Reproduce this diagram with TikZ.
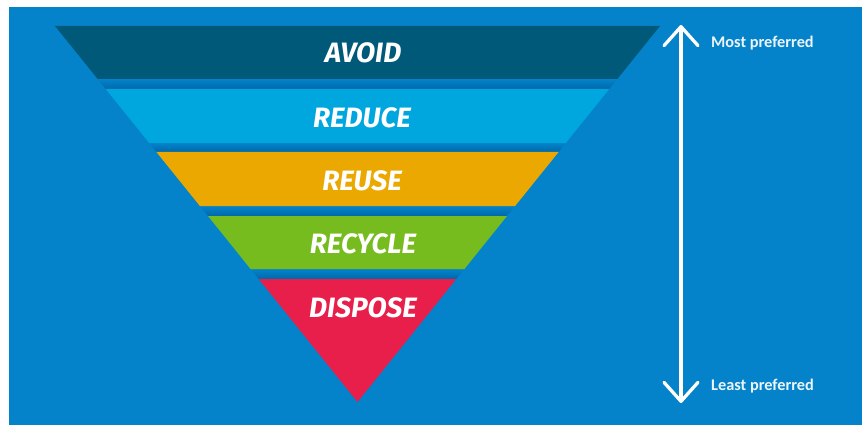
\documentclass[tikz,border=0pt]{standalone}
\usepackage{fontspec}
\setmainfont{Fira Sans}
\newfontfamily\labfont{Carlito}
\usetikzlibrary{arrows.meta}
\definecolor{bgblue}{RGB}{4,131,203}
\definecolor{gapblue}{RGB}{0,104,170}
\definecolor{avoidc}{RGB}{0,89,120}
\definecolor{reducec}{RGB}{0,166,222}
\definecolor{reusec}{RGB}{234,168,0}
\definecolor{recyclec}{RGB}{119,188,31}
\definecolor{disposec}{RGB}{232,30,75}
\definecolor{labwhite}{RGB}{236,244,250}
\tikzset{
  bandtext/.style={text=white, font=\fontsize{28}{30}\selectfont\bfseries\itshape, anchor=base, inner sep=0pt},
  sidelabel/.style={text=labwhite, font=\labfont\bfseries\fontsize{16.3}{18}\selectfont, anchor=base west, inner sep=0pt},
  gapshade/.style={top color=bgblue, bottom color=gapblue},
  prefarrow/.style={white, line width=3.3pt, {Straight Barb[length=19pt,width=34pt,line cap=round,line join=round]}-{Straight Barb[length=19pt,width=34pt,line cap=round,line join=round]}}
}
\begin{document}
\begin{tikzpicture}[x=1pt,y=-1pt]
\useasboundingbox (0,0) rectangle (862,425);
\fill[white] (0,0) rectangle (862,425);
\fill[bgblue] (9,7) rectangle (862,425);
% gaps
\shade[gapshade] (97.7,79) -- (617.3,79) -- (609.3,89) -- (105.7,89) -- cycle;
\shade[gapshade] (149.2,143) -- (565.8,143) -- (558.6,152) -- (156.4,152) -- cycle;
\shade[gapshade] (199.9,206) -- (515.1,206) -- (507,216) -- (208,216) -- cycle;
\shade[gapshade] (250.6,269) -- (464.4,269) -- (456.3,279) -- (258.7,279) -- cycle;
% bands
\fill[avoidc] (55,26) -- (660,26) -- (617.3,79) -- (97.7,79) -- cycle;
\fill[reducec] (105.7,89) -- (609.3,89) -- (565.8,143) -- (149.2,143) -- cycle;
\fill[reusec] (156.4,152) -- (558.6,152) -- (515.1,206) -- (199.9,206) -- cycle;
\fill[recyclec] (208,216) -- (507,216) -- (464.4,269) -- (250.6,269) -- cycle;
\fill[disposec] (258.7,279) -- (456.3,279) -- (357.5,402) -- cycle;
% texts
\node[bandtext] (avoid) at (363,63) {AVOID};
\node[bandtext] (reduce) at (362,128) {REDUCE};
\node[bandtext] (reuse) at (362,190) {REUSE};
\node[bandtext] (recycle) at (363,253) {RECYCLE};
\node[bandtext] (dispose) at (363,317) {DISPOSE};
% arrow
\coordinate (top) at (681,25);
\coordinate (bot) at (681,403);
\draw[prefarrow] (bot) -- (top);
\node[sidelabel] (most) at (711,48) {Most preferred};
\node[sidelabel] (least) at (711,390) {Least preferred};
\end{tikzpicture}
\end{document}
